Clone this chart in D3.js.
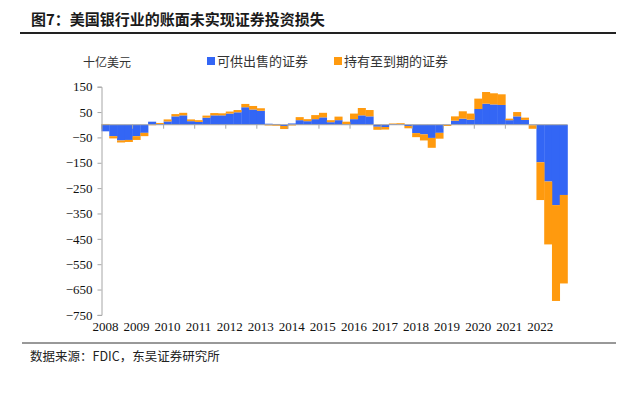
<!DOCTYPE html>
<html>
<head>
<meta charset="utf-8">
<script src="https://cdn.jsdelivr.net/npm/d3@7"></script>
<style>
  html, body { margin: 0; padding: 0; background: #fff; }
  svg { display: block; }
</style>
</head>
<body>
<svg id="chart" width="640" height="393"></svg>
<script>
// ---- data (billions USD, quarterly 2008Q1 - 2022Q4) ----
const years = ["2008","2009","2010","2011","2012","2013","2014","2015","2016","2017","2018","2019","2020","2021","2022"];
const quarterNames = ["Q1","Q2","Q3","Q4"];
const seriesNames = ["可供出售的证券", "持有至到期的证券"];
const afs = [
  -26, -45, -62, -60,
  -45, -32, 12, 3,
  13, 33, 37, 14,
  11, 28, 37, 37,
  44, 49, 69, 60,
  55, 4, 3, -5,
  5, 18, 14, 22,
  29, 10, 18, 2,
  22, 37, 33, -8,
  -9, 3, 2, -5,
  -33, -38, -52, -32,
  -1, 16, 24, 20,
  62, 83, 80, 78,
  18, 33, 19, -2,
  -148, -224, -317, -277
];
const htm = [
  3, -9, -8, -8,
  -15, -13, -2, 4,
  8, 9, 10, 7,
  7, 8, 9, 8,
  8, 9, 13, 14,
  10, -3, -4, -12,
  -3, 12, 8, 16,
  18, 8, 14, 10,
  22, 29, 25, -12,
  -10, 2, 4, -9,
  -16, -24, -39, -23,
  -4, 17, 29, 24,
  41, 46, 44, 42,
  6, 17, 9, -14,
  -149, -248, -378, -349
];
const yTicks = [150, 50, -50, -150, -250, -350, -450, -550, -650, -750];
const unitLabel = "十亿美元";
const titleText = "图7：美国银行业的账面未实现证券投资损失";
const sourceText = "数据来源：FDIC，东吴证券研究所";
const colors = ["#3366f5", "#ff9a0e"];

(function () {
  // ---- build table ----
  const quarters = years.flatMap(yr => quarterNames.map(q => yr + q));
  const table = quarters.map((q, i) => ({ q, afs: afs[i], htm: htm[i] }));

  const svg = d3.select("#chart");
  const plotLeft = 101.5, plotRight = 567.5, plotTop = 86.7, plotBottom = 314.9;

  const x = d3.scaleBand().domain(quarters).range([plotLeft, plotRight]).padding(0);
  const y = d3.scaleLinear().domain([-750, 150]).range([plotBottom, plotTop]);

  const stack = d3.stack().keys(["afs", "htm"]).offset(d3.stackOffsetDiverging);
  const stacked = stack(table);

  // title
  svg.append("text")
    .attr("x", 31).attr("y", 25)
    .attr("font-family", "'Noto Sans CJK SC', sans-serif")
    .attr("font-weight", 700)
    .attr("font-size", 15)
    .attr("fill", "#1a1a1a")
    .text(titleText);
  svg.append("line")
    .attr("x1", 20).attr("x2", 616).attr("y1", 33).attr("y2", 33)
    .attr("stroke", "#222").attr("stroke-width", 2);

  // unit label
  svg.append("text")
    .attr("x", 83).attr("y", 67)
    .attr("font-family", "'Noto Sans CJK SC', sans-serif")
    .attr("font-size", 12)
    .attr("fill", "#333")
    .text(unitLabel);

  // legend
  const legendX = [207, 334];
  seriesNames.forEach((name, i) => {
    const g = svg.append("g").attr("transform", `translate(${legendX[i]},0)`);
    g.append("rect").attr("x", 0).attr("y", 57).attr("width", 8).attr("height", 8).attr("fill", colors[i]);
    g.append("text").attr("x", 10).attr("y", 66)
      .attr("font-family", "'Noto Sans CJK SC', sans-serif")
      .attr("font-size", 13)
      .attr("fill", "#333")
      .text(name);
  });

  // bars
  svg.append("g").selectAll("g")
    .data(stacked)
    .join("g")
    .attr("fill", (d, i) => colors[i])
    .selectAll("rect")
    .data(d => d)
    .join("rect")
    .attr("x", d => x(d.data.q))
    .attr("width", x.bandwidth() + 0.3)
    .attr("y", d => y(Math.max(d[0], d[1])))
    .attr("height", d => Math.abs(y(d[0]) - y(d[1])));

  // y axis
  const yAxis = d3.axisLeft(y).tickValues(yTicks).tickSize(4).tickPadding(5).tickFormat(d3.format("d"));
  const ga = svg.append("g").attr("transform", `translate(${plotLeft},0)`).call(yAxis);
  ga.select(".domain").attr("stroke", "#a6a6a6");
  ga.selectAll(".tick line").attr("stroke", "#a6a6a6");
  ga.selectAll(".tick text")
    .attr("font-family", "'Liberation Serif', 'Times New Roman', serif")
    .attr("font-size", 13)
    .attr("fill", "#111");

  // zero baseline with year-boundary ticks
  const zeroY = y(0);
  svg.append("line")
    .attr("x1", plotLeft).attr("x2", plotRight).attr("y1", zeroY).attr("y2", zeroY)
    .attr("stroke", "#a6a6a6").attr("stroke-width", 1);
  svg.append("g").selectAll("line")
    .data(years)
    .join("line")
    .attr("x1", d => x(d + "Q1")).attr("x2", d => x(d + "Q1"))
    .attr("y1", zeroY).attr("y2", zeroY + 4)
    .attr("stroke", "#a6a6a6");

  // year labels at bottom (centered on Q1)
  svg.append("g").selectAll("text")
    .data(years)
    .join("text")
    .attr("x", d => x(d + "Q1") + x.bandwidth() / 2)
    .attr("y", 331)
    .attr("text-anchor", "middle")
    .attr("font-family", "'Liberation Serif', 'Times New Roman', serif")
    .attr("font-size", 13)
    .attr("fill", "#111")
    .text(d => d);

  // bottom rule and source
  svg.append("line")
    .attr("x1", 22).attr("x2", 616).attr("y1", 343).attr("y2", 343)
    .attr("stroke", "#333").attr("stroke-width", 1);
  svg.append("text")
    .attr("x", 30).attr("y", 361)
    .attr("font-family", "'Noto Sans CJK SC', sans-serif")
    .attr("font-size", 12.5)
    .attr("fill", "#222")
    .text(sourceText);
})();
</script>
</body>
</html>
